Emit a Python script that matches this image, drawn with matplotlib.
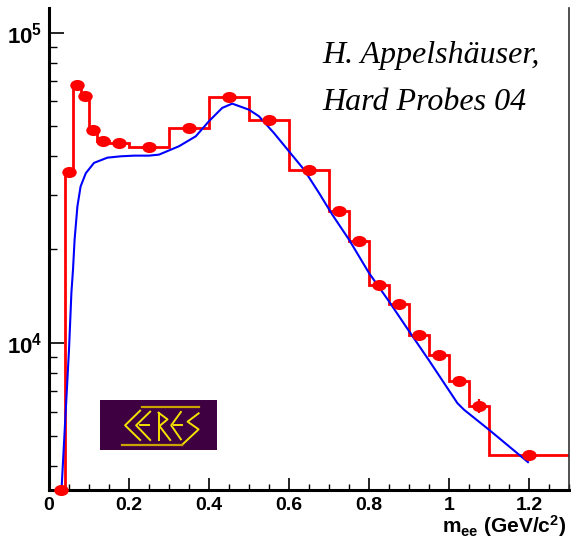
import numpy as np
import matplotlib
matplotlib.use("Agg")
import matplotlib.pyplot as plt
from matplotlib.markers import MarkerStyle
from matplotlib.transforms import Affine2D
from matplotlib.ticker import FixedLocator, LogLocator, MultipleLocator, FuncFormatter, NullFormatter

plt.rcParams['font.family'] = ['Liberation Sans', 'DejaVu Sans']
plt.rcParams['mathtext.fontset'] = 'custom'
plt.rcParams['mathtext.rm'] = 'Liberation Sans:bold'
plt.rcParams['mathtext.bf'] = 'Liberation Sans:bold'
plt.rcParams['mathtext.it'] = 'Liberation Sans:bold'

# histogram (step outline)
bin_edges = [0.0, 0.04, 0.06, 0.08, 0.10, 0.12, 0.15, 0.20, 0.30, 0.40, 0.50,
             0.60, 0.70, 0.75, 0.80, 0.85, 0.90, 0.95, 1.00, 1.05, 1.10, 1.30]
bin_values = [3350, 35500, 67500, 62300, 48600, 44600, 44200, 42700, 49300, 62200,
              52400, 36100, 26500, 21300, 15300, 13350, 10600, 9100, 7500, 6270, 4330]

# data points
mass = [0.03, 0.05, 0.07, 0.09, 0.11, 0.135, 0.175, 0.25, 0.35, 0.45, 0.55,
        0.65, 0.725, 0.775, 0.825, 0.875, 0.925, 0.975, 1.025, 1.075, 1.2]
counts = [3350, 35500, 67500, 62300, 48600, 44600, 44200, 42700, 49300, 62200, 52400,
          36100, 26500, 21300, 15300, 13350, 10600, 9100, 7500, 6270, 4330]
count_err = [0, 400, 600, 600, 500, 450, 400, 350, 400, 500, 450,
             350, 300, 250, 200, 180, 170, 220, 320, 330, 120]

# cocktail curve
curve_x = [0.031, 0.05, 0.056, 0.06, 0.064, 0.071, 0.079, 0.092, 0.1125, 0.146, 0.179,
           0.2125, 0.25, 0.275, 0.325, 0.367, 0.40, 0.433, 0.458, 0.50, 0.525, 0.5625,
           0.60, 0.6375, 0.675, 0.708, 0.75, 0.80, 0.85, 0.90, 0.95, 1.021, 1.0375, 1.10, 1.1975]
curve_y = [3300, 9500, 14500, 17200, 21500, 27500, 31900, 35200, 38000, 39500, 39900,
           40100, 40100, 40400, 43000, 46300, 51800, 57150, 59000, 56400, 53700, 47400,
           41400, 36150, 30400, 25900, 21500, 16780, 13590, 10900, 8770, 6385, 6080, 5240, 4120]

fig = plt.figure(figsize=(5.71, 5.40), dpi=100)
ax = fig.add_axes([49 / 571, 1 - 490 / 540, (569 - 49) / 571, (490 - 8) / 540])

ax.set_yscale('log')
ax.set_xlim(0, 1.3)
ax.set_ylim(3350, 1.2e5)

ax.stairs(bin_values, bin_edges, baseline=None, color='#ff0000', lw=2.0, zorder=2)
ax.plot(curve_x, curve_y, color='#0000ff', lw=1.5, zorder=3)

dot = MarkerStyle('o', transform=Affine2D().scale(1.3, 1.0))
ax.errorbar(mass, counts, yerr=count_err, fmt='none', ecolor='#ff0000', elinewidth=1.6,
            capsize=0, zorder=4)
ax.plot(mass, counts, linestyle='none', marker=dot, ms=8, color='#ff0000',
        markeredgewidth=0, zorder=5, clip_on=False)

# ROOT-like axes
ax.spines['top'].set_visible(False)
ax.spines['left'].set_linewidth(2.2)
ax.spines['bottom'].set_linewidth(2.2)
ax.spines['right'].set_linewidth(1.2)
ax.spines['right'].set_color('#333333')

ax.xaxis.set_major_locator(MultipleLocator(0.2))
ax.xaxis.set_minor_locator(MultipleLocator(0.05))
ax.xaxis.set_major_formatter(FuncFormatter(lambda v, p: '0' if abs(v) < 1e-9 else ('1' if abs(v - 1) < 1e-9 else f'{v:g}')))
ax.yaxis.set_major_locator(FixedLocator([1e4, 1e5]))
ax.yaxis.set_minor_locator(LogLocator(base=10, subs=np.arange(2, 10), numticks=20))
ax.yaxis.set_minor_formatter(NullFormatter())
ax.yaxis.set_major_formatter(FuncFormatter(lambda v, p: r'$10^{%d}$' % int(round(np.log10(v)))))

ax.tick_params(axis='x', which='major', direction='in', length=9, width=1.2, pad=5,
               labelsize=14, top=False)
ax.tick_params(axis='x', which='minor', direction='in', length=4, width=1.0, top=False)
ax.tick_params(axis='y', which='major', direction='in', length=11, width=1.2, pad=5,
               labelsize=16, right=False)
ax.tick_params(axis='y', which='minor', direction='in', length=6, width=1.0, right=False)
for lab in ax.get_xticklabels():
    lab.set_fontweight('bold')

fig.text(566 / 571, 1 / 540, r'm$_{\mathregular{ee}}$ (GeV/c$^{\mathregular{2}}$)',
         fontsize=15, fontweight='bold', ha='right', va='bottom')

fig.text(322 / 571, 1 - 56 / 540, 'H. Appelshäuser,', family='Liberation Serif',
         style='italic', fontsize=23, ha='left', va='center')
fig.text(322 / 571, 1 - 103 / 540, 'Hard Probes 04', family='Liberation Serif',
         style='italic', fontsize=23, ha='left', va='center')

# CERES logo
lax = fig.add_axes([100 / 571, 1 - 450 / 540, 117 / 571, 50 / 540])
lax.set_xlim(30, 380)
lax.set_ylim(180, 30)
lax.set_facecolor('#3f0042')
lax.set_xticks([])
lax.set_yticks([])
for s in lax.spines.values():
    s.set_visible(False)
yel = '#f5e100'
gold = '#c9a400'
lax.plot([155, 325], [50, 50], color=gold, lw=1.6)
lax.plot([275, 325, 292, 325], [165, 118, 95, 70], color=yel, lw=1.4)
lax.plot([95, 275], [165, 165], color=gold, lw=1.6)
lax.plot([150, 105, 150], [62, 106, 150], color=yel, lw=1.4)
lax.plot([180, 138, 180], [65, 106, 150], color=yel, lw=1.4)
lax.plot([150, 178], [106, 106], color=yel, lw=1.4)
lax.plot([205, 205], [68, 150], color=yel, lw=1.4)
lax.plot([205, 232, 208, 240], [68, 88, 108, 150], color=yel, lw=1.4)
lax.plot([272, 243, 272], [66, 106, 148], color=yel, lw=1.4)
lax.plot([252, 274], [106, 106], color=yel, lw=1.4)

fig.savefig('out.png', dpi=100)
